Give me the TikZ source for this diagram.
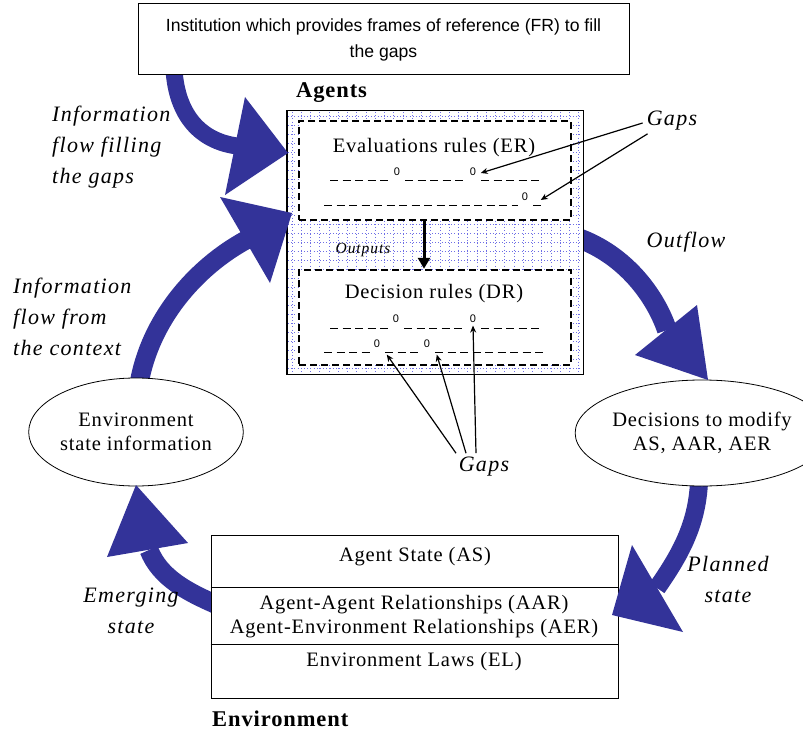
\documentclass[tikz,border=0pt]{standalone}
\usepackage{fontspec}
\usetikzlibrary{arrows.meta,shapes.geometric}
\setmainfont{Liberation Serif}
\newfontfamily\bodyf[LetterSpace=4]{Liberation Serif}
\newfontfamily\labf[LetterSpace=6]{Liberation Serif}
\newfontfamily\sansf{Liberation Sans}
\definecolor{flowblue}{RGB}{51,51,153}
\definecolor{gridblue}{RGB}{110,110,230}
\begin{document}
\begin{tikzpicture}[x=1pt,y=-1pt,
  body/.style={font=\bodyf\fontsize{20.5}{24}\selectfont, align=center, inner sep=0pt},
  bold/.style={font=\bodyf\bfseries\fontsize{22.5}{26}\selectfont, inner sep=0pt},
  lab/.style={font=\labf\itshape\fontsize{22}{31}\selectfont, inner sep=0pt},
  zero/.style={font=\sansf\fontsize{11}{11}\selectfont, inner sep=0.5pt},
  flow/.style={draw=flowblue, line cap=butt},
  headfill/.style={fill=flowblue},
  dbox/.style={draw, fill=white, line width=2.5pt, dash pattern=on 7pt off 4pt, inner sep=0pt},
  rule/.style={line width=1pt, dash pattern=on 8pt off 4.5pt},
  gridline/.style={draw=gridblue, line width=0.6pt, dash pattern=on 0.8pt off 2.4pt},
  gaparrow/.style={line width=1.2pt, -{Stealth[length=7pt,width=6pt]}},
  ell/.style={draw, fill=white, ellipse, inner sep=0pt, line width=0.8pt}
]
\useasboundingbox (0,0) rectangle (803,733);
\fill[white] (0,0) rectangle (803,733);

% ---- flow shafts (drawn first) ----
\coordinate (aS) at (174,70);   \coordinate (aB) at (237,146);
\coordinate (bS) at (139,384);  \coordinate (bB) at (246,240);
\coordinate (cS) at (578,238);  \coordinate (cB) at (667,330);
\coordinate (dS) at (699,482);  \coordinate (dB) at (657,588);
\coordinate (eS) at (215,604);  \coordinate (eB) at (149,550);
\draw[flow, line width=17pt] (aS) .. controls (177,115) and (200,141) .. (aB);
\draw[flow, line width=19pt] (bS) .. controls (150,320) and (195,268) .. (bB);
\draw[flow, line width=20pt] (cS) .. controls (625,255) and (655,295) .. (cB);
\draw[flow, line width=18pt] (dS) .. controls (697,525) and (680,555) .. (dB);
\draw[flow, line width=19pt] (eS) .. controls (188,592) and (160,578) .. (eB);

% ---- institution box ----
\node[draw, fill=white, line width=1pt, minimum width=491pt, minimum height=71pt, inner sep=0pt,
      font=\sansf\fontsize{17.6}{26}\selectfont, align=center] (inst) at (383.5,39.5)
      {Institution which provides frames of reference (FR) to fill\\the gaps};

% ---- agents box with grid ----
\node[draw, fill=white, line width=1pt, minimum width=296pt, minimum height=263pt, inner sep=0pt] (agents) at (435,242.5) {};
\foreach \gx in {292,301.25,...,580} {\draw[gridline] (\gx,112) -- (\gx,373);}
\foreach \gy in {116,125,...,371} {\draw[gridline] (288,\gy) -- (582,\gy);}
\draw[line width=1pt] (agents.north west) rectangle (agents.south east);
\node[bold, anchor=west] (agentslbl) at (296,93) {Agents};

\node[dbox, minimum width=272pt, minimum height=99pt] (er) at (435,170.5) {};
\node[dbox, minimum width=272pt, minimum height=95pt] (dr) at (435,317.5) {};
\node[body] (ertitle) at (434,148) {Evaluations rules (ER)};
\node[body] (drtitle) at (434,294) {Decision rules (DR)};

% ER rule lines
\draw[rule] (330,180) -- (390,180);
\draw[rule] (405,180) -- (466,180);
\draw[rule] (481,180) -- (540,180);
\draw[rule] (324,205) -- (518,205);
\draw[rule] (533,205) -- (545,205);
\node[zero] (z1) at (397,172) {0};
\node[zero] (z2) at (473,172) {0};
\node[zero] (z3) at (525,197) {0};
% DR rule lines
\draw[rule] (330,328) -- (389,328);
\draw[rule] (404,328) -- (466,328);
\draw[rule] (481,328) -- (540,328);
\draw[rule] (324,352) -- (370,352);
\draw[rule] (385,352) -- (420,352);
\draw[rule] (435,352) -- (545,352);
\node[zero] (z4) at (396,319) {0};
\node[zero] (z5) at (473,319) {0};
\node[zero] (z6) at (377,344) {0};
\node[zero] (z7) at (427,344) {0};

% outputs arrow
\draw[line width=3pt, -{Triangle[length=11pt,width=12pt]}] ([xshift=-11pt]er.south) -- ([xshift=-11pt]dr.north);
\node[font=\labf\itshape\fontsize{15.5}{18}\selectfont, inner sep=0pt] (outlbl) at (363,250) {Outputs};

% ---- ellipses ----
\node[ell, body, minimum width=192pt, minimum height=108pt] (envinfo) at (136,432) {Environment\\state information};
\node[ell, body, minimum width=199pt, minimum height=106pt] (decis) at (702,433) {Decisions to modify\\AS, AAR, AER};

% ---- environment box ----
\node[draw, fill=white, line width=1pt, minimum width=407pt, minimum height=163pt, inner sep=0pt] (env) at (414.5,616.5) {};
\draw[line width=1pt] (env.north west) ++(0,53) -- ++(407,0);
\draw[line width=1pt] (env.north west) ++(0,110) -- ++(407,0);
\node[body] (as) at (415,557) {Agent State (AS)};
\node[body] (aar) at (414,617) {Agent-Agent Relationships (AAR)\\Agent-Environment Relationships (AER)};
\node[body] (el) at (414,662) {Environment Laws (EL)};
\node[bold, anchor=west] (envlbl) at (212,719) {Environment};

% ---- flow heads ----
\fill[headfill] (245,97) -- (288,153) -- (225,195) -- cycle;
\fill[headfill] (220,197) -- (292,213) -- (270,283) -- cycle;
\fill[headfill] (635,355) -- (708,380) -- (697,305) -- cycle;
\fill[headfill] (632,545) -- (612,615) -- (683,632) -- cycle;
\fill[headfill] (107,557) -- (136,485) -- (188,543) -- cycle;

% ---- flow labels ----
\node[lab, align=left, anchor=west] (l1) at (52,147) {Information\\flow filling\\the gaps};
\node[lab, align=left, anchor=west] (l2) at (13,317) {Information\\flow from\\the context};
\node[lab] (l3) at (686,242) {Outflow};
\node[lab, align=center] (l4) at (728,579) {Planned\\state};
\node[lab, align=center] (l5) at (131,611) {Emerging\\state};

% ---- gaps ----
\node[lab] (gapsT) at (672,121) {Gaps};
\node[lab] (gapsB) at (484,467) {Gaps};
\draw[gaparrow] ([xshift=-4pt,yshift=-2pt]gapsT.west) -- ([xshift=4pt,yshift=-1pt]z2.east);
\draw[gaparrow] ([xshift=1pt,yshift=-3pt]gapsT.south west) -- ([xshift=12pt,yshift=-3pt]z3.east);
\draw[gaparrow] ([xshift=-28pt,yshift=4pt]gapsB.north) -- ([xshift=6pt,yshift=-6pt]z6.south east);
\draw[gaparrow] ([xshift=-18pt,yshift=4pt]gapsB.north) -- ([xshift=6pt,yshift=-6pt]z7.south east);
\draw[gaparrow] ([xshift=-8pt,yshift=4pt]gapsB.north) -- ([yshift=-2pt]z5.south);
\end{tikzpicture}
\end{document}
